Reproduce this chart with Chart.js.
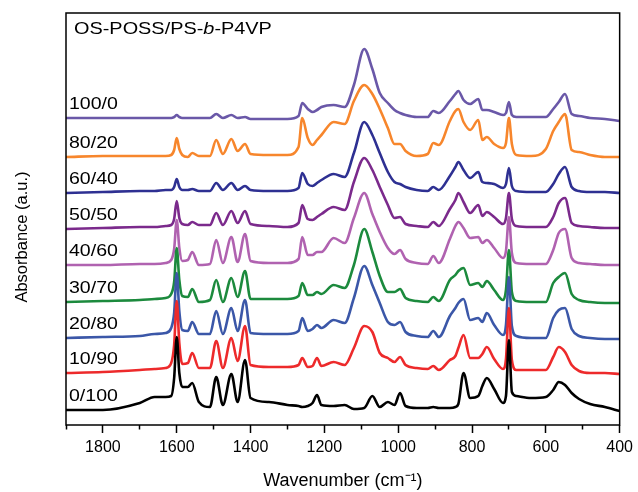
<!DOCTYPE html>
<html>
<head>
<meta charset="utf-8">
<script src="https://cdn.jsdelivr.net/npm/chart.js@4.4.1/dist/chart.umd.min.js"></script>
<style>
  html, body { margin: 0; padding: 0; background: #fff; }
  #wrap { width: 638px; height: 492px; }
</style>
</head>
<body>
<div id="wrap"><canvas id="ftir" width="638" height="492"></canvas></div>
<script>
// Wavenumber grid (cm-1)
const wavenumbers = [1900, 1800, 1700, 1660, 1630, 1615, 1607, 1600, 1593, 1585,
                     1570, 1558, 1540, 1510, 1493, 1475, 1452, 1435, 1415, 1400,
                     1350, 1300, 1270, 1260, 1245, 1232, 1220, 1208, 1175, 1145,
                     1120, 1092, 1070, 1050, 1028, 1010, 995, 980, 950, 920,
                     905, 890, 860, 845, 837, 823, 805, 783, 772, 760,
                     740, 716, 708, 700, 692, 680, 640, 600, 580, 565,
                     548, 530, 510, 480, 440, 400];

// Series names, bottom curve first
const labels = ["0/100", "10/90", "20/80", "30/70", "40/60", "50/50", "60/40", "80/20", "100/0"];

// Vertical stacking offset of each curve (a.u.)
const offsets = [17, 57, 91, 125, 161, 198, 234, 269, 306];

const colors = ["#000000", "#ed2a2b", "#3b57a8", "#1c8a3d", "#b062b0", "#7b2a8c", "#2e3092", "#f7862c", "#6a58a8"];

// Absorbance (a.u.) above each curve's offset
const abs0_100 = [-2, -2, 5, 11, 11, 12, 30, 71, 35, 21,
                  21, 25, 6, 1, 31, 3, 34, 6, 48, 10,
                  6, 3, 2, 1, 2, 5, 13, 3, 2, 3,
                  -1, 0, 12, 1, 6, 3, 15, 2, 0, 0,
                  1, 0, 0, 1, 4, 35, 10, 12, 22, 30,
                  19, 5, 12, 68, 16, 12, 10, 11, 18, 26,
                  23, 15, 9, 4, 1, -3];
const abs10_90 = [-5, -4, -2, -1, 0, 5, 23, 67, 25, 4,
                  5, 15, 0, 0, 27, 0, 30, 7, 42, 3,
                  1, 1, 3, 10, 1, 2, 10, 2, 6, 3,
                  20, 42, 36, 15, 10, 6, 11, 3, 0, -1,
                  2, -2, 8, 12, 20, 33, 10, 10, 14, 21,
                  9, -1, 9, 60, 8, -2, -2, -2, 11, 21,
                  16, 3, -3, -5, -5, -6];
const abs20_80 = [-4, -3, -2, 0, 1, 6, 21, 61, 23, 4,
                  3, 12, 0, 0, 23, 0, 26, 3, 34, 1,
                  0, 0, 3, 16, 3, 5, 9, 6, 14, 11,
                  36, 68, 49, 31, 12, 9, 12, 2, -2, -3,
                  3, -3, 18, 26, 31, 35, 14, 16, 12, 21,
                  9, -1, 9, 57, 8, -2, -4, -4, 16, 24,
                  26, 5, -2, -4, -5, -5];
const abs30_70 = [-2, -1, 0, 1, 2, 6, 18, 52, 20, 4,
                  3, 11, -2, 0, 20, -2, 22, 3, 29, 1,
                  1, 1, 4, 17, 5, 5, 8, 6, 15, 12,
                  35, 71, 48, 24, 8, 8, 11, 2, -1, -2,
                  3, -1, 20, 25, 29, 32, 15, 17, 13, 19,
                  10, 0, 10, 50, 8, -1, -2, -2, 17, 23,
                  27, 6, 0, -2, -3, -3];
const abs40_60 = [-1, -1, 0, 0, 1, 4, 15, 44, 16, 3,
                  4, 12, -1, 0, 24, 1, 27, 2, 30, 3,
                  1, 1, 5, 27, 9, 9, 12, 12, 26, 21,
                  46, 71, 50, 32, 16, 10, 14, 5, 1, 0,
                  8, 1, 25, 38, 42, 36, 26, 27, 21, 24,
                  16, 6, 13, 47, 11, 1, 0, 0, 14, 31,
                  35, 6, 1, 0, -1, -1];
const abs50_50 = [-2, -1, 0, 0, 1, 2, 8, 26, 9, 3,
                  2, 5, 2, 2, 14, 2, 16, 4, 16, 3,
                  1, 0, 4, 22, 8, 7, 10, 13, 20, 17,
                  45, 69, 57, 40, 22, 9, 10, 3, 1, 0,
                  5, 1, 18, 27, 34, 25, 14, 22, 11, 15,
                  10, 3, 9, 34, 8, 1, 0, 0, 10, 24,
                  29, 4, 1, 0, -1, -1];
const abs60_40 = [-2, -1, 0, 0, 1, 1, 4, 12, 4, 1,
                  1, 2, 0, 0, 8, 1, 8, 1, 5, 1,
                  0, 0, 3, 18, 7, 5, 8, 11, 17, 14,
                  38, 69, 56, 38, 19, 9, 7, 4, 1, 0,
                  4, 1, 15, 24, 29, 21, 13, 19, 9, 8,
                  7, 3, 7, 23, 5, 0, -1, -1, 7, 17,
                  24, 4, 0, -1, -1, -2];
const abs80_20 = [-1, 0, 0, 0, 0, 1, 6, 18, 7, 1,
                  -1, 3, 0, 0, 16, 2, 17, 5, 12, 2,
                  1, 1, 9, 38, 18, 11, 16, 21, 34, 32,
                  55, 71, 62, 47, 28, 12, 12, 5, 0, 2,
                  13, 11, 35, 45, 47, 34, 26, 36, 16, 19,
                  12, 8, 13, 38, 12, 1, 0, 7, 25, 34,
                  42, 6, 4, 1, -1, -1];
const abs100_0 = [1, 1, 1, 1, 1, 1, 2, 4, 2, 1,
                  1, 1, 1, 1, 5, 1, 4, 1, 2, 0,
                  0, 0, 3, 16, 10, 7, 9, 12, 14, 12,
                  34, 70, 50, 26, 16, 9, 6, 4, 2, 2,
                  8, 6, 18, 25, 28, 19, 15, 20, 9, 9,
                  7, 4, 6, 17, 4, 2, 2, 2, 10, 17,
                  25, 5, 3, 1, 0, -2];

const series = [abs0_100, abs10_90, abs20_80, abs30_70, abs40_60, abs50_50, abs60_40, abs80_20, abs100_0];

const FONT = '"Liberation Sans", Arial, Helvetica, sans-serif';

// Dataset 0 is drawn last, so the bottom curve lies on top
const datasets = series.map((abs, i) => ({
    label: labels[i],
    data: wavenumbers.map((w, j) => ({ x: w, y: offsets[i] + abs[j] })),
    borderColor: colors[i],
    borderWidth: 2.6,
    pointRadius: 0,
    fill: false,
    cubicInterpolationMode: 'monotone',
    borderJoinStyle: 'round',
    borderCapStyle: 'round'
}));

// Frame, y title, curve names and inner title
const decorPlugin = {
    id: 'decor',
    afterDraw(chart) {
        const { ctx, chartArea: a, scales: { y } } = chart;
        ctx.save();
        ctx.strokeStyle = '#000';
        ctx.lineWidth = 1.5;
        ctx.strokeRect(a.left, a.top, a.right - a.left, a.bottom - a.top);

        ctx.fillStyle = '#000';
        ctx.textBaseline = 'middle';

        // y axis title
        ctx.save();
        ctx.translate(22.5, 237);
        ctx.rotate(-Math.PI / 2);
        ctx.textAlign = 'center';
        ctx.font = '16.5px ' + FONT;
        ctx.fillText('Absorbance (a.u.)', 0, 0);
        ctx.restore();

        // curve names, just above each curve's left end
        ctx.textAlign = 'left';
        ctx.font = '17px ' + FONT;
        series.forEach((abs, i) => {
            const py = y.getPixelForValue(offsets[i] + abs[0]) - 14;
            ctx.save();
            ctx.translate(a.left + 3, py);
            ctx.scale(1.15, 1);
            ctx.fillText(labels[i], 0, 0);
            ctx.restore();
        });

        // inner title with italic b
        ctx.save();
        ctx.translate(a.left + 8, a.top + 16);
        ctx.scale(1.17, 1);
        let px = 0;
        [['OS-POSS/PS-', ''], ['b', 'italic '], ['-P4VP', '']].forEach(([t, st]) => {
            ctx.font = st + '17px ' + FONT;
            ctx.fillText(t, px, 0);
            px += ctx.measureText(t).width;
        });
        ctx.restore();
        ctx.restore();
    }
};

new Chart(document.getElementById('ftir'), {
    type: 'line',
    data: { datasets: datasets },
    options: {
        responsive: false,
        animation: false,
        devicePixelRatio: 1,
        layout: { autoPadding: false, padding: { left: 66, right: 12, top: 13, bottom: 0 } },
        plugins: { legend: { display: false }, tooltip: { enabled: false } },
        scales: {
            x: {
                type: 'linear',
                reverse: true,
                min: 400,
                max: 1900,
                afterFit(scale) { scale.height = 67; },
                border: { display: false },
                grid: {
                    drawOnChartArea: false,
                    drawTicks: true,
                    tickLength: 8,
                    tickColor: '#000',
                    tickWidth: 1.5,
                    tickBorderDash: (c) => (c.tick && c.tick.value % 200 !== 0) ? [4.5, 20] : []
                },
                ticks: {
                    stepSize: 100,
                    autoSkip: false,
                    maxRotation: 0,
                    padding: 5,
                    color: '#000',
                    font: { family: FONT, size: 16 },
                    callback: (v) => (v % 200 === 0 ? String(v) : '')
                },
                title: {
                    display: true,
                    text: 'Wavenumber (cm\u207B\u00B9)',
                    color: '#000',
                    font: { family: FONT, size: 18, lineHeight: 1.2 },
                    padding: { top: 0, bottom: 0 }
                }
            },
            y: {
                type: 'linear',
                display: false,
                min: 0,
                max: 412
            }
        }
    },
    plugins: [decorPlugin]
});
</script>
</body>
</html>
